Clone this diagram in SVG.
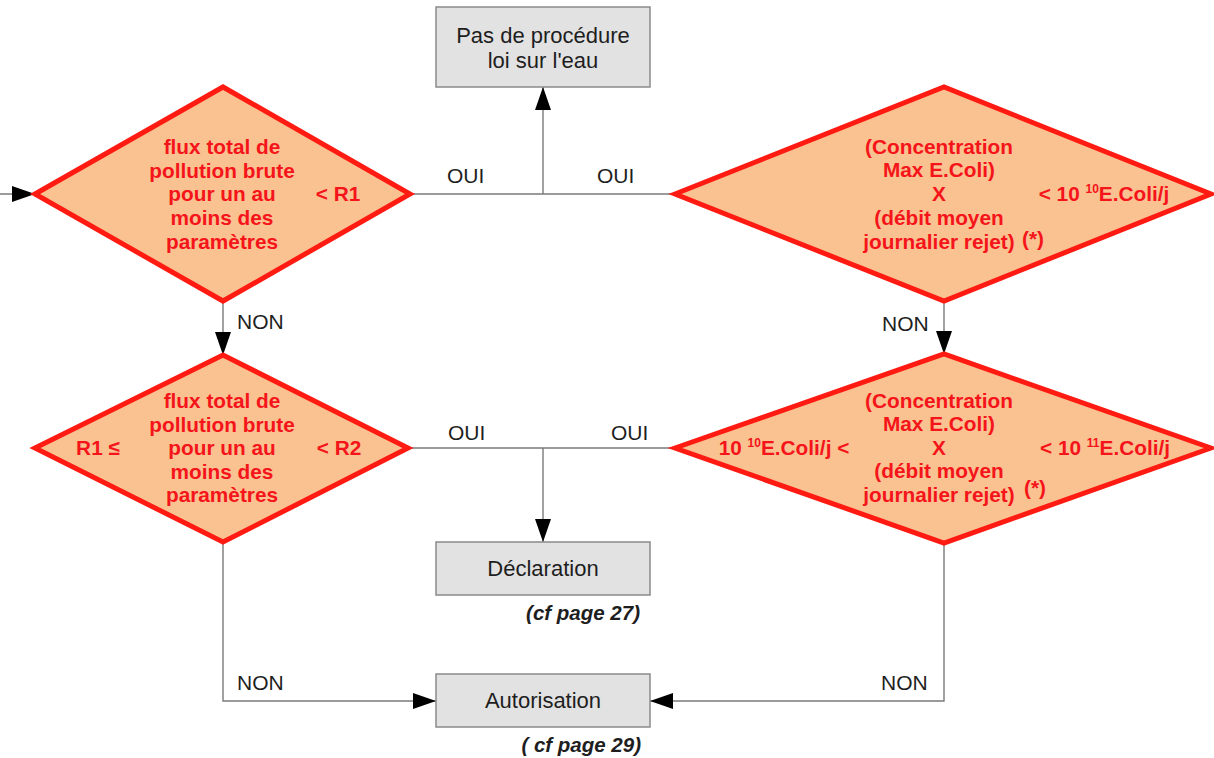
<svg xmlns="http://www.w3.org/2000/svg" width="1214" height="758" viewBox="0 0 1214 758">
  <style>
    .dia { fill: #f9c290; stroke: #ff1a12; stroke-width: 5; stroke-linejoin: miter; }
    .box { fill: #e2e2e2; stroke: #8a8a8a; stroke-width: 1.5; }
    .dt { font-family: "Liberation Sans", Arial, sans-serif; font-weight: bold; font-size: 20.8px; fill: #f5141a; text-anchor: middle; }
    .bt { font-family: "Liberation Sans", Arial, sans-serif; font-size: 22px; fill: #1e1e1e; text-anchor: middle; }
    .lbl { font-family: "Liberation Sans", Arial, sans-serif; font-size: 21px; fill: #1e1e1e; }
    .ref { font-family: "Liberation Sans", Arial, sans-serif; font-size: 20.5px; font-weight: bold; font-style: italic; fill: #1e1e1e; text-anchor: end; }
    .sup { font-size: 12px; }
    .wire { fill: none; stroke: #7a7a7a; stroke-width: 1.4; }
  </style>
  <defs>
    <marker id="arrow" viewBox="0 0 23 16" refX="23" refY="8" markerWidth="23" markerHeight="16" markerUnits="userSpaceOnUse" orient="auto">
      <path d="M0,0 L23,8 L0,16 Z" fill="#000"/>
    </marker>
  </defs>

  <rect width="1214" height="758" fill="#ffffff"/>

  <!-- connectors -->
  <g id="connectors">
    <path class="wire" d="M0,194 L35,194" marker-end="url(#arrow)"/>
    <path class="wire" d="M410,194 L675,194"/>
    <path class="wire" d="M543,194 L543,87" marker-end="url(#arrow)"/>
    <path class="wire" d="M223,301 L223,355" marker-end="url(#arrow)"/>
    <path class="wire" d="M944,301 L944,354" marker-end="url(#arrow)"/>
    <path class="wire" d="M408,448 L675,448"/>
    <path class="wire" d="M543,448 L543,542" marker-end="url(#arrow)"/>
    <path class="wire" d="M223,542 L223,701 L436,701" marker-end="url(#arrow)"/>
    <path class="wire" d="M944,543 L944,701 L650,701" marker-end="url(#arrow)"/>
  </g>

  <!-- connector labels -->
  <g id="labels">
    <text class="lbl" x="447" y="183">OUI</text>
    <text class="lbl" x="597" y="183">OUI</text>
    <text class="lbl" x="237" y="329">NON</text>
    <text class="lbl" x="882" y="331">NON</text>
    <text class="lbl" x="448" y="440">OUI</text>
    <text class="lbl" x="611" y="440">OUI</text>
    <text class="lbl" x="237" y="690">NON</text>
    <text class="lbl" x="881" y="690">NON</text>
  </g>

  <!-- outcome boxes -->
  <g id="node-pas-de-procedure">
    <rect class="box" x="436" y="7" width="214" height="80"/>
    <text class="bt" x="543" y="43">Pas de procédure</text>
    <text class="bt" x="543" y="68">loi sur l'eau</text>
  </g>
  <g id="node-declaration">
    <rect class="box" x="436" y="542" width="214" height="53"/>
    <text class="bt" x="543" y="576">Déclaration</text>
    <text class="ref" x="640" y="620">(cf page 27)</text>
  </g>
  <g id="node-autorisation">
    <rect class="box" x="436" y="674" width="214" height="53"/>
    <text class="bt" x="543" y="708">Autorisation</text>
    <text class="ref" x="641" y="752">( cf page 29)</text>
  </g>

  <!-- decision: flux < R1 -->
  <g id="node-flux-r1">
    <polygon class="dia" points="35,194 223,87 410,194 223,301"/>
    <text class="dt" x="222" y="154">flux total de</text>
    <text class="dt" x="222" y="178">pollution brute</text>
    <text class="dt" x="222" y="201">pour un au</text>
    <text class="dt" x="222" y="225">moins des</text>
    <text class="dt" x="222" y="249">paramètres</text>
    <text class="dt" x="338" y="201">&lt; R1</text>
  </g>

  <!-- decision: E.Coli < 10^10 -->
  <g id="node-ecoli-1e10">
    <polygon class="dia" points="675,194 944,87 1211,194 944,301"/>
    <text class="dt" x="939" y="154">(Concentration</text>
    <text class="dt" x="939" y="177">Max E.Coli)</text>
    <text class="dt" x="939" y="201">X</text>
    <text class="dt" x="939" y="225">(débit moyen</text>
    <text class="dt" x="939" y="249">journalier rejet)</text>
    <text class="dt" x="1033" y="246">(*)</text>
    <text class="dt" x="1104" y="201">&lt; 10 <tspan class="sup" dy="-8">10</tspan><tspan dy="8">E.Coli/j</tspan></text>
  </g>

  <!-- decision: R1 <= flux < R2 -->
  <g id="node-flux-r1-r2">
    <polygon class="dia" points="35,448 223,355 408,448 223,542"/>
    <text class="dt" x="222" y="408">flux total de</text>
    <text class="dt" x="222" y="432">pollution brute</text>
    <text class="dt" x="222" y="455">pour un au</text>
    <text class="dt" x="222" y="479">moins des</text>
    <text class="dt" x="222" y="502">paramètres</text>
    <text class="dt" x="98" y="455">R1 ≤</text>
    <text class="dt" x="339" y="455">&lt; R2</text>
  </g>

  <!-- decision: 10^10 < E.Coli < 10^11 -->
  <g id="node-ecoli-1e10-1e11">
    <polygon class="dia" points="675,448 944,354 1211,448 944,543"/>
    <text class="dt" x="939" y="408">(Concentration</text>
    <text class="dt" x="939" y="431">Max E.Coli)</text>
    <text class="dt" x="939" y="455">X</text>
    <text class="dt" x="939" y="478">(débit moyen</text>
    <text class="dt" x="939" y="502">journalier rejet)</text>
    <text class="dt" x="1035" y="495">(*)</text>
    <text class="dt" x="784" y="455">10 <tspan class="sup" dy="-8">10</tspan><tspan dy="8">E.Coli/j &lt;</tspan></text>
    <text class="dt" x="1105" y="455">&lt; 10 <tspan class="sup" dy="-8">11</tspan><tspan dy="8">E.Coli/j</tspan></text>
  </g>
</svg>
